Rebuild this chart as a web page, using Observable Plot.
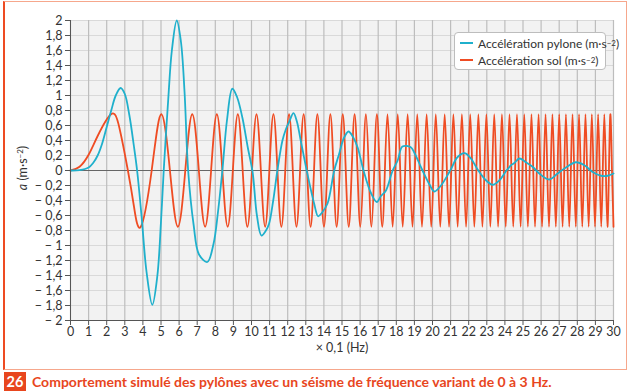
<!DOCTYPE html>
<html>
<head>
<meta charset="utf-8">
<script src="https://cdn.jsdelivr.net/npm/d3@7"></script>
<script src="https://cdn.jsdelivr.net/npm/@observablehq/plot@0.6"></script>
<style>
  html, body { margin: 0; padding: 0; background: #fff; }
  #wrap { position: relative; width: 630px; height: 392px; overflow: hidden; font-family: Lato, "Open Sans", sans-serif; color: #333; }
  #chart { position: absolute; left: 0; top: 0; }
  #frame { position: absolute; left: 3px; top: 1px; width: 624px; height: 369px; box-sizing: border-box;
           border: 1.5px solid #f6a78c; border-left: 2px solid #ee4b22; }
  #ylabel { position: absolute; left: 22px; top: 168px; transform: translate(-50%, -50%) rotate(-90deg);
            white-space: nowrap; font-size: 12.5px; color: #333; }
  #legend { position: absolute; left: 454px; top: 32px; width: 152px; height: 38px; box-sizing: border-box;
            border: 1px solid #bdbdbd; border-radius: 4px; background: #fff; font-size: 12px; color: #333; }
  .row { position: absolute; left: 5px; height: 14px; display: flex; align-items: center; white-space: nowrap; }
  .sw { width: 13px; height: 2px; margin-right: 5px; }
  sup { font-size: 8px; vertical-align: 4px; line-height: 0; }
  #badge { position: absolute; left: 4px; top: 372px; width: 22px; height: 19px; background: #e8461e; color: #fff;
           font-weight: bold; font-size: 14.5px; line-height: 19px; text-align: center; }
  #caption { position: absolute; left: 32px; top: 372px; line-height: 19px; font-weight: bold; font-size: 14px; color: #e8461e; white-space: nowrap; }
</style>
</head>
<body>
<div id="wrap">
  <div id="chart"></div>
  <div id="frame"></div>
  <div id="ylabel"><i>a</i> (m·s<sup>−2</sup>)</div>
  <div id="legend">
    <div class="row" style="top:3px"><div class="sw" style="background:#1fb0cc"></div>Accélération pylone (m·s<sup>−2</sup>)</div>
    <div class="row" style="top:20px"><div class="sw" style="background:#ef4c23"></div>Accélération sol (m·s<sup>−2</sup>)</div>
  </div>
  <div id="badge">26</div>
  <div id="caption">Comportement simulé des pylônes avec un séisme de fréquence variant de 0 à 3 Hz.</div>
</div>
<script>
// ---- tick values ----
const xTicks = [0,1,2,3,4,5,6,7,8,9,10,11,12,13,14,15,16,17,18,19,20,21,22,23,24,25,26,27,28,29,30];
const yTicks = [-2,-1.8,-1.6,-1.4,-1.2,-1,-0.8,-0.6,-0.4,-0.2,0,0.2,0.4,0.6,0.8,1,1.2,1.4,1.6,1.8,2];

// ---- ground acceleration (sol): read positions of zero crossings, peaks and troughs ----
const solAmp = 0.75;
const solZeroX = [0,3.171,4.485,5.493,6.342,7.091,7.768,8.390,8.969,9.513,10.028,10.517,10.985,11.434,11.865,12.282,12.684,13.075,13.454,13.823,14.182,14.532,14.874,15.208,15.535,15.856,16.170,16.478,16.780,17.077,17.369,17.656,17.939,18.217,18.491,18.761,19.027,19.289,19.548,19.803,20.056,20.305,20.551,20.795,21.035,21.273,21.508,21.740,21.970,22.198,22.423,22.646,22.867,23.086,23.303,23.518,23.731,23.942,24.151,24.358,24.563,24.767,24.969,25.170,25.369,25.566,25.762,25.957,26.150,26.341,26.532,26.721,26.908,27.094,27.279,27.463,27.645,27.827,28.007,28.186,28.363,28.540,28.716,28.890,29.064,29.236,29.408,29.578,29.748,29.916];
const solPeakX = [2.242,5.014,6.727,8.085,9.245,10.276,11.212,12.075,12.881,13.640,14.358,15.042,15.696,16.324,16.929,17.513,18.078,18.626,19.158,19.676,20.181,20.673,21.154,21.624,22.084,22.535,22.977,23.411,23.836,24.254,24.666,25.070,25.468,25.860,26.246,26.626,27.001,27.371,27.736,28.096,28.452,28.803,29.150,29.493,29.832];
const solTroughX = [3.884,5.933,7.437,8.684,9.774,10.754,11.651,12.485,13.266,14.003,14.704,15.373,16.013,16.629,17.224,17.798,18.354,18.894,19.419,19.930,20.429,20.915,21.390,21.855,22.311,22.757,23.195,23.624,24.046,24.461,24.869,25.270,25.664,26.053,26.437,26.814,27.187,27.554,27.917,28.275,28.628,28.977,29.322,29.663,30.000];
const solStartX = [0.5, 1, 1.5, 2.7, 3.5];
const solStartY = [0.05, 0.21, 0.46, 0.57, -0.47];

// ---- pylon acceleration ----
const pyloneX = [0,0.5,1,1.25,1.5,1.75,2,2.25,2.5,2.77,3,3.25,3.5,3.68,3.93,4.2,4.52,4.8,5,5.15,5.4,5.6,5.87,6.1,6.3,6.5,6.8,7.1,7.56,7.9,8.15,8.39,8.65,8.94,9.2,9.5,9.8,10.06,10.3,10.55,10.8,10.97,11.2,11.43,11.71,11.9,12.1,12.32,12.5,12.72,13.05,13.46,13.68,13.9,14.2,14.57,14.84,15.1,15.36,15.6,15.86,16.19,16.6,16.92,17.15,17.42,17.8,18.07,18.34,18.8,18.99,19.45,19.82,20.1,20.47,20.98,21.39,21.79,22.12,22.53,22.95,23.32,23.7,24.06,24.34,24.52,24.8,25.16,25.53,25.9,26.45,26.91,27.37,27.93,28.39,28.85,29.31,29.68,30];
const pyloneY = [0,0.005,0.04,0.1,0.2,0.36,0.58,0.8,1.0,1.1,1.02,0.74,0.33,0,-0.62,-1.35,-1.79,-1.4,-0.68,0,0.95,1.6,2.0,1.72,1.05,0,-0.72,-1.12,-1.22,-0.98,-0.55,0,0.68,1.09,0.98,0.7,0.3,-0.02,-0.6,-0.867,-0.8,-0.71,-0.4,0,0.4,0.55,0.66,0.764,0.66,0.4,0,-0.44,-0.61,-0.56,-0.44,0,0.22,0.43,0.52,0.45,0.31,0,-0.3,-0.42,-0.34,-0.27,0,0.13,0.32,0.31,0.24,0,-0.18,-0.28,-0.2,0,0.18,0.23,0.16,0,-0.13,-0.19,-0.13,-0.01,0.07,0.1,0.16,0.11,0.05,-0.04,-0.12,-0.04,0.04,0.11,0.07,-0.02,-0.07,-0.07,-0.04];

const colPylone = "#1fb0cc";
const colSol = "#ef4c23";

const solData = [
  ...solZeroX.map(x => ({x, y: 0})),
  ...solPeakX.map(x => ({x, y: solAmp})),
  ...solTroughX.map(x => ({x, y: -solAmp})),
  ...solStartX.map((x, i) => ({x, y: solStartY[i]}))
].sort((a, b) => a.x - b.x);
const pyloneData = pyloneX.map((x, i) => ({x, y: pyloneY[i]}));

const fmtY = d => d === 0 ? "0" : (d < 0 ? "\u2212 " : "") + String(Math.round(Math.abs(d) * 10) / 10).replace(".", ",");

const chart = Plot.plot({
  width: 630,
  height: 370,
  marginLeft: 70,
  marginRight: 17,
  marginTop: 20,
  marginBottom: 50,
  x: {domain: [0, 30]},
  y: {domain: [-2, 2]},
  style: {fontFamily: "Lato, 'Open Sans', sans-serif", fontSize: "12.5px", color: "#333", background: "none"},
  marks: [
    Plot.frame({fill: "#f2f2f2", stroke: null}),
    Plot.gridY(yTicks, {stroke: "#d9d9d9", strokeOpacity: 1, strokeWidth: 1.2}),
    Plot.gridX(xTicks, {stroke: "#bdbdbd", strokeOpacity: 1, strokeWidth: 1.2}),
    Plot.ruleY([0], {stroke: "#666", strokeWidth: 1}),
    Plot.line(solData, {x: "x", y: "y", stroke: colSol, strokeWidth: 1.8, curve: "natural"}),
    Plot.line(pyloneData, {x: "x", y: "y", stroke: colPylone, strokeWidth: 1.8, curve: "catmull-rom"}),
    Plot.axisY(yTicks, {tickFormat: fmtY, tickSize: 5, tickPadding: 3, stroke: "#555", label: null}),
    Plot.axisX(xTicks, {tickSize: 5, tickPadding: 2, stroke: "#555", label: null}),
    Plot.ruleX([0], {stroke: "#555"}),
    Plot.ruleY([-2], {stroke: "#555"}),
    Plot.text(["\u00d7 0,1 (Hz)"], {frameAnchor: "bottom", dy: 31, fontSize: 12.5, fill: "#333"})
  ]
});
document.getElementById("chart").appendChild(chart);
</script>
</body>
</html>
